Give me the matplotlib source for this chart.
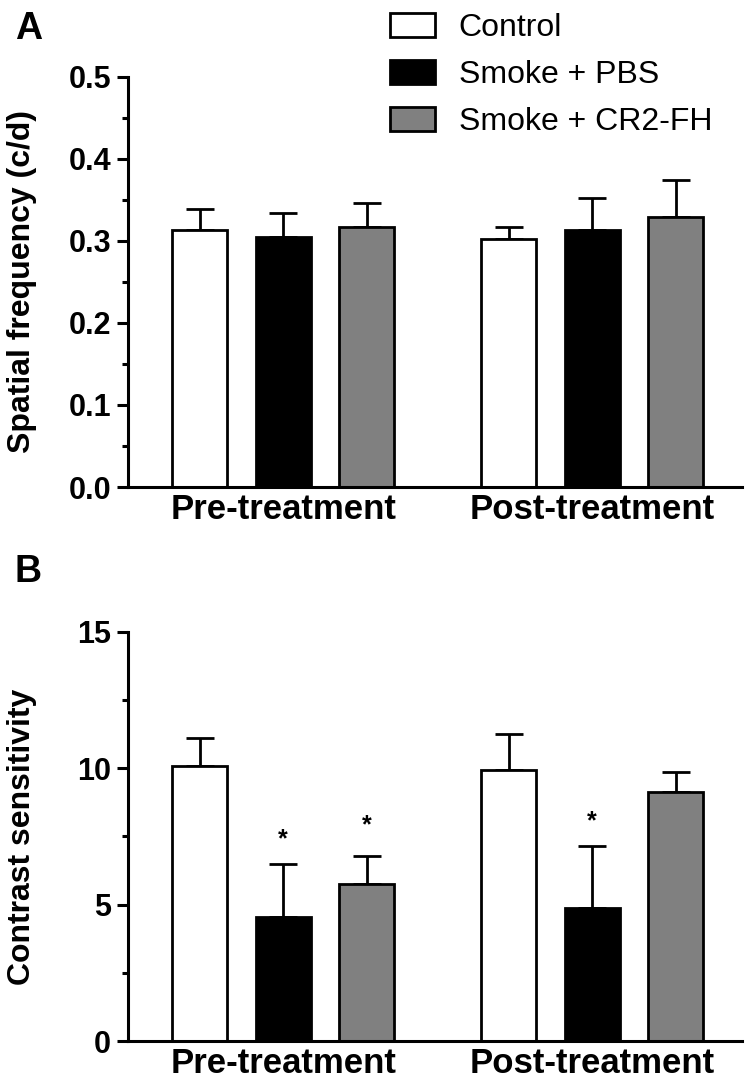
#!/usr/bin/env python3
"""Grouped bar chart: spatial frequency (A) and contrast sensitivity (B)."""

import numpy as np
import matplotlib.pyplot as plt
from matplotlib.patches import Patch
from matplotlib.ticker import MultipleLocator

plt.rcParams["font.family"] = ["Liberation Sans", "DejaVu Sans"]

groups = ["Pre-treatment", "Post-treatment"]
series = ["Control", "Smoke + PBS", "Smoke + CR2-FH"]
colors = ["white", "black", "#808080"]

# Panel A: spatial frequency (c/d), mean and upper SEM
sf_mean = [[0.313, 0.302], [0.305, 0.313], [0.317, 0.329]]
sf_err = [[0.026, 0.015], [0.029, 0.039], [0.029, 0.045]]

# Panel B: contrast sensitivity
cs_mean = [[10.1, 9.93], [4.55, 4.87], [5.75, 9.12]]
cs_err = [[1.0, 1.32], [1.95, 2.27], [1.05, 0.73]]
# asterisk markers (series index, group index, y position)
cs_stars = [(1, 0, 7.4), (2, 0, 7.9), (1, 1, 8.06)]

group_pos = np.array([0.0, 3.7])
offsets = np.array([0.0, 1.0, 2.0])
bar_w = 0.66


def draw_panel(ax, means, errs, ylim, major, minor, ylabel, fmt):
    for i, (m, e) in enumerate(zip(means, errs)):
        x = group_pos + offsets[i]
        ax.bar(x, m, width=bar_w, color=colors[i], edgecolor="black",
               linewidth=2.0, zorder=2)
        ax.errorbar(x, m, yerr=[np.zeros(len(e)), e], fmt="none",
                    ecolor="black", elinewidth=2.0, capsize=10,
                    capthick=2.0, zorder=1)
    ax.set_xlim(-0.86, 6.49)
    ax.set_ylim(*ylim)
    ax.yaxis.set_major_locator(MultipleLocator(major))
    ax.yaxis.set_minor_locator(MultipleLocator(minor))
    ax.yaxis.set_major_formatter(fmt)
    ax.set_xticks(group_pos + 1.0)
    ax.set_xticklabels(groups, fontsize=25, fontweight="bold")
    ax.tick_params(axis="x", length=0, pad=4)
    ax.tick_params(axis="y", which="major", length=8, width=2.2,
                   labelsize=22, pad=4)
    ax.tick_params(axis="y", which="minor", length=4, width=2.2)
    for lab in ax.get_yticklabels():
        lab.set_fontweight("bold")
    ax.spines["top"].set_visible(False)
    ax.spines["right"].set_visible(False)
    ax.spines["left"].set_linewidth(2.2)
    ax.spines["bottom"].set_linewidth(2.2)
    ax.set_ylabel(ylabel, fontsize=23, fontweight="bold")


fig = plt.figure(figsize=(7.47, 10.8), dpi=100)
axA = fig.add_axes([0.171, 0.549, 0.822, 0.380])
axB = fig.add_axes([0.171, 0.036, 0.822, 0.379])

draw_panel(axA, sf_mean, sf_err, (0, 0.5), 0.1, 0.05,
           "Spatial frequency (c/d)", "{x:.1f}")
draw_panel(axB, cs_mean, cs_err, (0, 15), 5, 2.5,
           "Contrast sensitivity", "{x:.0f}")

# put both y labels at the same distance from the figure edge
for ax in (axA, axB):
    ax.yaxis.set_label_coords(-0.148, 0.5)

for si, gi, y in cs_stars:
    axB.text(group_pos[gi] + offsets[si], y, "*", ha="center", va="center",
             fontsize=18, fontweight="bold")

fig.text(0.02, 0.99, "A", fontsize=27, fontweight="bold", va="top")
fig.text(0.02, 0.487, "B", fontsize=27, fontweight="bold", va="top")

handles = [Patch(facecolor=c, edgecolor="black", linewidth=2.0) for c in colors]
fig.legend(handles, series, loc="upper left", bbox_to_anchor=(0.505, 1.0),
           frameon=False, fontsize=23, handlelength=1.4, handleheight=0.8,
           handletextpad=0.75, labelspacing=0.52, borderaxespad=0)

fig.savefig("out.png", dpi=100)
